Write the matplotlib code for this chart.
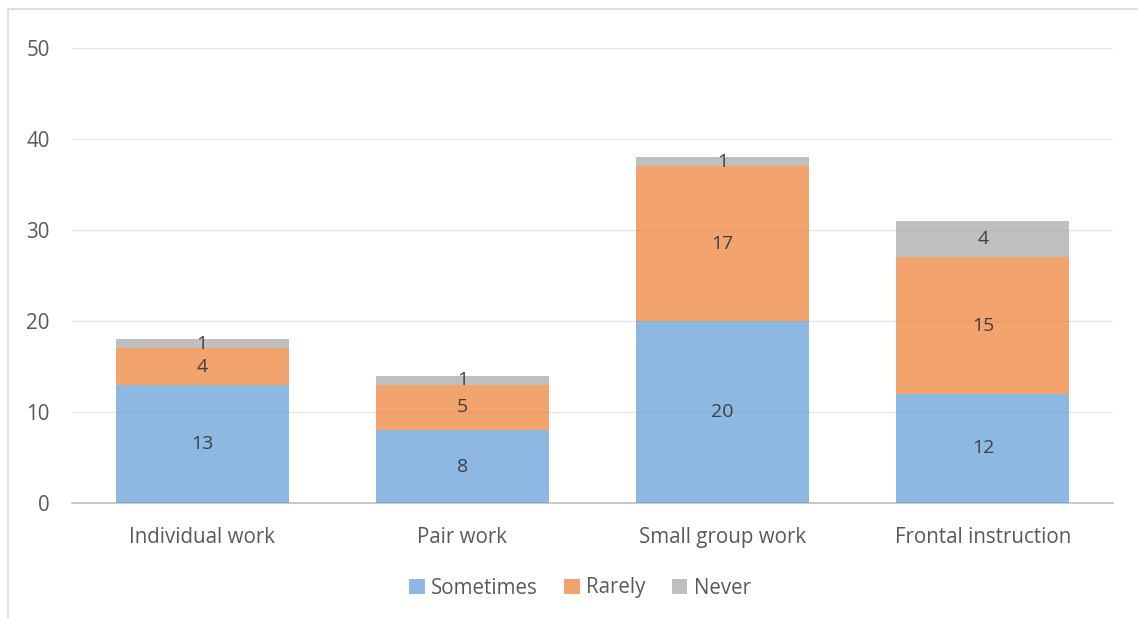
import matplotlib.pyplot as plt
from matplotlib.patches import Rectangle
import numpy as np

plt.rcParams['font.family'] = ['Open Sans', 'DejaVu Sans']

categories = ['Individual work', 'Pair work', 'Small group work', 'Frontal instruction']
sometimes = [13, 8, 20, 12]
rarely = [4, 5, 17, 15]
never = [1, 1, 1, 4]
series_names = ['Sometimes', 'Rarely', 'Never']
colors = ['#5B9BD5', '#ED7D31', '#A5A5A5']

fig = plt.figure(figsize=(11.38, 6.18), dpi=100)
ax = fig.add_axes([72 / 1138, 1 - 503 / 618, (1113 - 72) / 1138, (503 - 48) / 618])

# light frame around the chart area
fig.patches.append(Rectangle((8 / 1138, -0.1), 1.2, 1 - 9 / 618 + 0.1, transform=fig.transFigure,
                             fill=False, edgecolor='#d9d9d9', linewidth=1.2))

x = np.arange(len(categories))
bottom = np.zeros(len(categories))
for name, vals, col in zip(series_names, [sometimes, rarely, never], colors):
    ax.bar(x, vals, 0.665, bottom=bottom, color=col, alpha=0.7, label=name, zorder=3)
    for xi, b, v in zip(x, bottom, vals):
        ax.text(xi, b + v / 2, str(v), ha='center', va='center', fontsize=14, color='#404040', zorder=4)
    bottom += np.array(vals)

ax.set_xlim(-0.5, 3.5)
ax.set_ylim(0, 50)
ax.set_yticks(range(0, 51, 10))
ax.grid(axis='y', color='#e6e6e6', linewidth=1, zorder=0)
ax.set_axisbelow(True)
for s in ['top', 'right', 'left']:
    ax.spines[s].set_visible(False)
ax.spines['bottom'].set_color('#bfbfbf')
ax.spines['bottom'].set_linewidth(1.2)
ax.tick_params(axis='both', length=0, labelsize=14.8, colors='#595959')
ax.tick_params(axis='y', pad=16)
ax.tick_params(axis='x', pad=17)
ax.set_xticks(x)
ax.set_xticklabels(categories)

fig.legend(loc='center', bbox_to_anchor=(580 / 1138, 1 - 588 / 618), ncol=3, frameon=False,
           fontsize=14.8, labelcolor='#595959', handlelength=0.75, handleheight=0.75,
           handletextpad=0.3, columnspacing=1.3)

fig.savefig('out.png', dpi=100)
